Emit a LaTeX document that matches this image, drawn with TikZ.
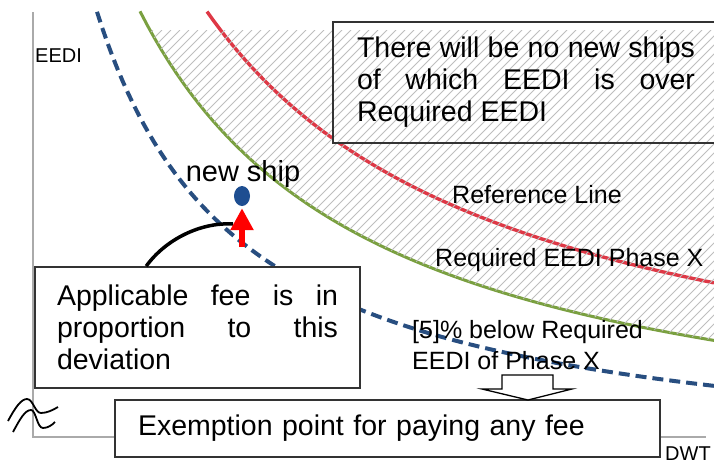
\documentclass[tikz,border=0pt]{standalone}
\usepackage{fontspec}
\setmainfont{Liberation Sans}
\usetikzlibrary{arrows.meta,calc,shapes.geometric}
\definecolor{refred}{RGB}{222,56,70}
\definecolor{reqgreen}{RGB}{122,160,64}
\definecolor{lowblue}{RGB}{40,78,128}
\definecolor{shipblue}{RGB}{30,78,145}
\definecolor{axisgray}{RGB}{170,170,170}
\definecolor{hatchgray}{RGB}{190,190,190}
\hbadness=10000
\begin{document}
\begin{tikzpicture}[x=1pt,y=-1pt,
	curve/.style={line width=3.4pt},
	notebox/.style={draw=black!80,line width=1.6pt,fill=white,inner sep=0pt,
		font=\fontsize{28.5}{32}\selectfont},
	lbl/.style={inner sep=0pt,font=\fontsize{25}{31}\selectfont}]
	\useasboundingbox (0,0) rectangle (714,464);
	\clip (0,0) rectangle (714,464);
	% axes
	\draw[axisgray,line width=2pt] (33,12) -- (33,437) -- (706,437);
	% reference line, required EEDI, 5% below
	\draw[curve,refred] plot[domain=207:714,samples=80] (\x,{446-1325/((\x+98)/100)});
	\draw[curve,reqgreen,line width=3pt] plot[domain=140:714,samples=80] (\x,{476-1099/((\x+96.5)/100)});
	\draw[curve,lowblue,line width=4pt,dash pattern=on 11pt off 6pt] plot[domain=97:714,samples=120] (\x,{474-672/((\x+48.4)/100)});
	\fill[white] (333,22) rectangle (720,143);
	% hatch above required line
	\begin{scope}
		\clip (150,30) -- plot[domain=150:714,samples=60] (\x,{476-1099/((\x+96.5)/100)}) -- (714,30) -- cycle;
		\foreach \i in {16,...,116} {
			\draw[hatchgray,line width=0.9pt] (\i*9,30) -- ++(-360,360);
		}
	\end{scope}
	\node[notebox,fill=none,align=justify,text width=338,minimum width=386,minimum height=121]
		(noships) at (526,82.5) {There will be no new ships\linebreak of which EEDI is over\linebreak Required EEDI};
	\node[notebox,align=justify,text width=281,minimum width=325,minimum height=121]
		(applic) at (197.5,327.5) {Applicable fee is in\linebreak proportion to this\linebreak deviation};
	% new ship and deviation
	\node[ellipse,fill=shipblue,minimum width=16,minimum height=20,inner sep=0pt] (ship) at (242,196) {};
	\coordinate (dev) at (242,247);
	\coordinate (arcend) at (233,224);
	\draw[line width=3.5pt] ($(applic.north west)+(112,0)$) .. controls (165,240) and (200,222) .. (arcend);
	\draw[red,line width=6pt,-{Triangle[width=22pt,length=22pt]},shorten >=2pt] (dev) -- (ship.south);
	\node[lbl,font=\fontsize{29}{31}\selectfont] (shiplbl) at (243,174) {new ship};
	\node[lbl] (reflbl) at (537,195) {Reference Line};
	\node[lbl,anchor=west] (reqlbl) at (435,260) {Required EEDI Phase X};
	\node[lbl,anchor=north west,align=left] (lowlbl) at (412,320) {[5]\% below Required\\EEDI of Phase X};
	% exemption
	\node[notebox,align=left,text width=499,minimum width=545,minimum height=57]
		(exempt) at (387.5,428.5) {Exemption point for paying any fee};
	\draw[line width=1.3pt,fill=white] (502,375) -- (553,375) -- (553,389) -- (572,389)
		-- (528,400) -- (482,389) -- (502,389) -- cycle;
	% axis break and labels
	\draw[line width=1.8pt] (8,421) .. controls (15,408) and (21,399) .. (27,399)
		.. controls (33,399) and (35,413) .. (41,413) .. controls (47,413) and (53,410) .. (58,407);
	\draw[line width=1.8pt] (13,432) .. controls (20,419) and (25,410) .. (31,410)
		.. controls (36,410) and (37,428) .. (43,428) .. controls (48,428) and (52,425) .. (55,422);
	\node[lbl,anchor=west,font=\fontsize{20}{24}\selectfont] (ylbl) at (35,56) {EEDI};
	\node[lbl,anchor=west,font=\fontsize{20}{24}\selectfont] (xlbl) at (665,454) {DWT};
\end{tikzpicture}
\end{document}
